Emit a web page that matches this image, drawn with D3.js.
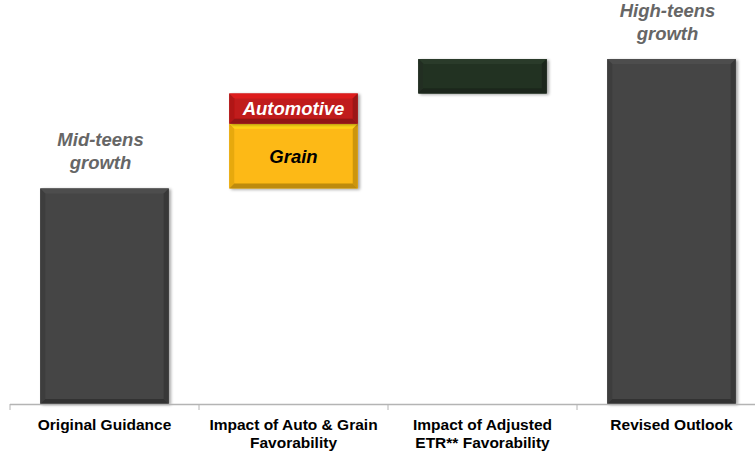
<!DOCTYPE html>
<html>
<head>
<meta charset="utf-8">
<script src="https://cdn.jsdelivr.net/npm/d3@7"></script>
<style>
  body { margin: 0; background: #fff; }
  svg { display: block; font-family: "Liberation Sans", Arial, sans-serif; }
</style>
</head>
<body>
<div id="chart"></div>
<script>
// Data
const categories = ["Original Guidance", "Impact of Auto & Grain Favorability", "Impact of Adjusted ETR** Favorability", "Revised Outlook"];
const categoryLines = [["Original Guidance"], ["Impact of Auto & Grain", "Favorability"], ["Impact of Adjusted", "ETR** Favorability"], ["Revised Outlook"]];
// segments: category, start, end, label
const segStart = [0, 100, 130, 144, 0];
const segEnd = [100, 130, 144, 160, 160];
const segCategory = [0, 1, 1, 2, 3];
const segLabels = ["", "Grain", "Automotive", "", ""];
const segColors = ["#444444", "#fdb913", "#c01a1a", "#243224", "#444444"];
const segText = ["", "#000", "#fff", "", ""];
const notes = [["Mid-teens", "growth"], null, null, ["High-teens", "growth"]];

const width = 755;
const height = 454;
const axisY = 404;

const svg = d3.select("#chart")
  .append("svg")
    .attr("width", width)
    .attr("height", height);

const defs = svg.append("defs");
const shadow = defs.append("filter").attr("id", "shadow")
  .attr("x", "-10%").attr("y", "-10%").attr("width", "130%").attr("height", "130%");
shadow.append("feDropShadow")
  .attr("dx", 2).attr("dy", 1).attr("stdDeviation", 1.5)
  .attr("flood-color", "#000").attr("flood-opacity", 0.35);

// Scales
const xScale = d3.scaleBand()
  .domain(d3.range(categories.length))
  .range([10, 766])
  .paddingInner(0.32)
  .paddingOuter(0.16);

const yScale = d3.scaleLinear()
  .domain([0, 160])
  .range([axisY, 59]);

// Bars with bevel
const bevel = 5;
segStart.forEach((s, i) => {
  const x = xScale(segCategory[i]);
  const w = xScale.bandwidth();
  const y = yScale(segEnd[i]);
  const h = yScale(s) - yScale(segEnd[i]);
  const g = svg.append("g").attr("filter", "url(#shadow)");
  const base = d3.color(segColors[i]);
  g.append("rect")
    .attr("x", x).attr("y", y).attr("width", w).attr("height", h)
    .attr("fill", base);
  const b = Math.min(bevel, h / 3);
  // top
  g.append("polygon")
    .attr("points", [[x, y], [x + w, y], [x + w - b, y + b], [x + b, y + b]].join(" "))
    .attr("fill", base.brighter(0.4));
  // left
  g.append("polygon")
    .attr("points", [[x, y], [x + b, y + b], [x + b, y + h - b], [x, y + h]].join(" "))
    .attr("fill", base.darker(0.25));
  // right
  g.append("polygon")
    .attr("points", [[x + w, y], [x + w - b, y + b], [x + w - b, y + h - b], [x + w, y + h]].join(" "))
    .attr("fill", base.darker(0.6));
  // bottom
  g.append("polygon")
    .attr("points", [[x, y + h], [x + b, y + h - b], [x + w - b, y + h - b], [x + w, y + h]].join(" "))
    .attr("fill", base.darker(0.8));
  if (segLabels[i]) {
    svg.append("text")
      .text(segLabels[i])
      .attr("x", x + w / 2)
      .attr("y", y + h / 2)
      .attr("dy", "0.36em")
      .attr("text-anchor", "middle")
      .attr("font-size", 18.5)
      .attr("font-weight", "bold")
      .attr("font-style", "italic")
      .attr("fill", segText[i]);
  }
});

// Notes above bars
notes.forEach((n, i) => {
  if (!n) return;
  const top = d3.max(segEnd.filter((e, j) => segCategory[j] === i));
  const cx = xScale(i) + xScale.bandwidth() / 2 - 4;
  n.forEach((line, k) => {
    svg.append("text")
      .text(line)
      .attr("x", cx)
      .attr("y", yScale(top) - 42 + k * 23)
      .attr("text-anchor", "middle")
      .attr("font-size", 18.5)
      .attr("font-weight", "bold")
      .attr("font-style", "italic")
      .attr("fill", "#666666");
  });
});

// Axis
svg.append("line")
  .attr("x1", 10).attr("x2", width)
  .attr("y1", axisY + 0.5).attr("y2", axisY + 0.5)
  .attr("stroke", "#b4b4b4").attr("stroke-width", 1.5);
const ticks = d3.range(categories.length + 1).map(i => 10 + i * xScale.step());
svg.selectAll(".tick")
  .data(ticks)
  .join("line")
    .attr("x1", d => d).attr("x2", d => d)
    .attr("y1", axisY).attr("y2", axisY + 6)
    .attr("stroke", "#b4b4b4").attr("stroke-width", 1);

categoryLines.forEach((lines, i) => {
  lines.forEach((line, k) => {
    svg.append("text")
      .text(line)
      .attr("x", xScale(i) + xScale.bandwidth() / 2)
      .attr("y", 430 + k * 18)
      .attr("text-anchor", "middle")
      .attr("font-size", 15.5)
      .attr("font-weight", "bold")
      .attr("fill", "#000");
  });
});
</script>
</body>
</html>
